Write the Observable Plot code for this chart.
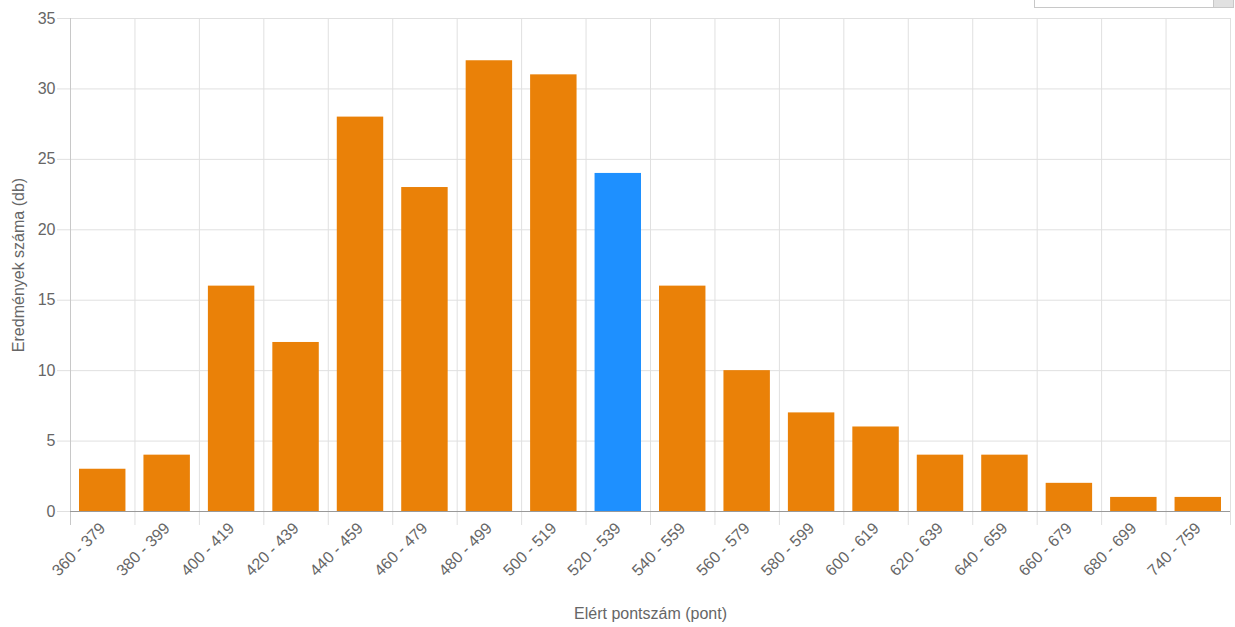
<!DOCTYPE html>
<html>
<head>
<meta charset="utf-8">
<script src="https://cdn.jsdelivr.net/npm/d3@7"></script>
<script src="https://cdn.jsdelivr.net/npm/@observablehq/plot@0.6"></script>
<style>
  html, body { margin: 0; padding: 0; background: #fff; overflow: hidden; }
  #wrap { position: relative; width: 1235px; height: 627px; font-family: "Liberation Sans", Arial, sans-serif; }
  #sel { position: absolute; left: 1034px; top: -20px; width: 200px; height: 28px; border: 1px solid #c8c8c8; background: #fff; box-sizing: border-box; }
  #sel .btn { position: absolute; right: 0; top: 0; width: 19px; height: 100%; background: #e1e1e1; border-left: 1px solid #c8c8c8; }
</style>
</head>
<body>
<div id="wrap"><div id="sel"><div class="btn"></div></div></div>
<script>
const categories = ["360 - 379","380 - 399","400 - 419","420 - 439","440 - 459","460 - 479","480 - 499","500 - 519","520 - 539","540 - 559","560 - 579","580 - 599","600 - 619","620 - 639","640 - 659","660 - 679","680 - 699","740 - 759"];
const counts = [3,4,16,12,28,23,32,31,24,16,10,7,6,4,4,2,1,1];
const highlighted = "520 - 539";
const yTicks = [0,5,10,15,20,25,30,35];
const xTitle = "Elért pontszám (pont)";
const yTitle = "Eredmények száma (db)";

const data = categories.map((c, i) => ({i, c, v: counts[i], hl: c === highlighted}));
const bounds = d3.range(0, categories.length + 1);

const chart = Plot.plot({
  width: 1235,
  height: 627,
  marginLeft: 70,
  marginRight: 5,
  marginTop: 18,
  marginBottom: 116,
  style: {fontFamily: "'Liberation Sans', Arial, sans-serif", color: "#666", background: "transparent"},
  x: {type: "linear", domain: [0, categories.length], axis: null},
  y: {type: "linear", domain: [0, 35], axis: null},
  marks: [
    Plot.ruleY(yTicks, {y: d => d, x1: 0, x2: categories.length, insetLeft: -13, stroke: "#e0e0e0"}),
    Plot.ruleX(bounds, {x: d => d, y1: 35, y2: 0, insetBottom: -14, stroke: "#e0e0e0"}),
    Plot.ruleX([0], {y1: 35, y2: 0, insetBottom: -14, stroke: "#c8c8c8"}),
    Plot.rectY(data, {x1: d => d.i, x2: d => d.i + 1, y: "v", fill: d => d.hl ? "#1e90ff" : "#ea8108", insetLeft: 9, insetRight: 9}),
    Plot.ruleY([0], {x1: 0, x2: categories.length, stroke: "#999"}),
    Plot.text(yTicks, {y: d => d, x: 0, text: d => String(d), textAnchor: "end", dx: -15, fontSize: 16, fill: "#666"}),
    Plot.text(data, {x: d => d.i + 0.5, y: 0, text: "c", rotate: -45, textAnchor: "end", dy: 14, dx: 0, fontSize: 16, fill: "#666"}),
    Plot.text([xTitle], {frameAnchor: "bottom", text: d => d, textAnchor: "middle", lineAnchor: "middle", dy: 102, fontSize: 16, fill: "#666"}),
    Plot.text([yTitle], {frameAnchor: "left", text: d => d, textAnchor: "middle", lineAnchor: "middle", rotate: -90, dx: -52, fontSize: 16, fill: "#666"})
  ]
});
chart.style.position = "absolute";
chart.style.left = "0";
chart.style.top = "0";
document.getElementById("wrap").prepend(chart);
</script>
</body>
</html>
